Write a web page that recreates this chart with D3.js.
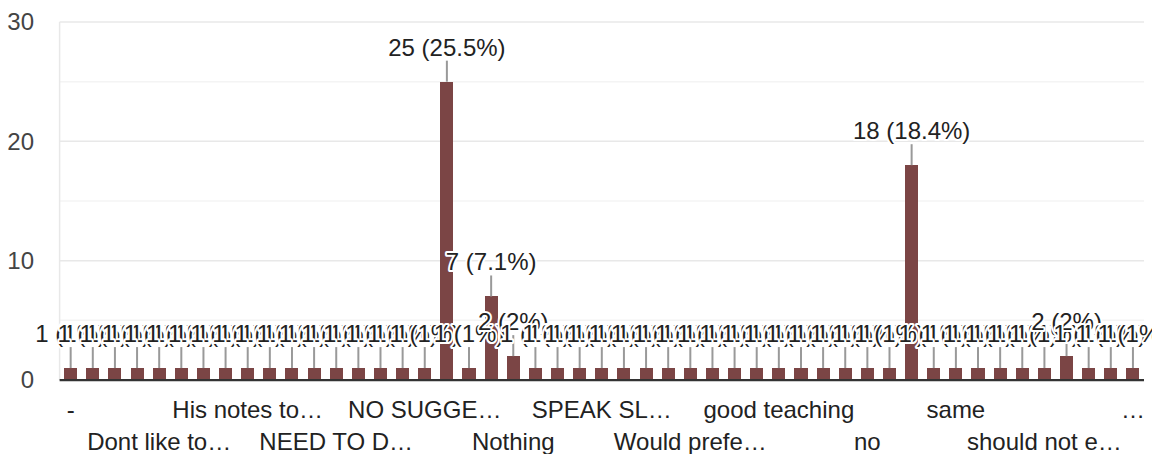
<!DOCTYPE html>
<html>
<head>
<meta charset="utf-8">
<script src="https://cdn.jsdelivr.net/npm/d3@7"></script>
<style>
  html, body { margin: 0; padding: 0; background: #fff; }
  svg { display: block; }
  text { font-family: Arial, "Liberation Sans", sans-serif; }
</style>
</head>
<body>
<svg id="chart" width="1152" height="454"></svg>
<script>
// ---- data ----
const values = [
  1, 1, 1, 1, 1, 1, 1, 1, 1, 1,
  1, 1, 1, 1, 1, 1, 1, 25, 1, 7,
  2, 1, 1, 1, 1, 1, 1, 1, 1, 1,
  1, 1, 1, 1, 1, 1, 1, 1, 18, 1,
  1, 1, 1, 1, 1, 2, 1, 1, 1
];
const categories = values.map((d, i) => i);
const tickLabels = ["-", "Dont like to…", "His notes to…", "NEED TO D…", "NO SUGGE…",
  "Nothing", "SPEAK SL…", "Would prefe…", "good teaching", "no", "same",
  "should not e…", "…"];
const tickEvery = 4;
const yTicks = [0, 10, 20, 30];
const yMinorTicks = [5, 15, 25];

(function () {
  // ---- layout ----
  const plotLeft = 59.6, plotRight = 1144, plotTop = 22, plotBase = 380;
  const total = d3.sum(values);

  const svg = d3.select("#chart");

  const x = d3.scaleBand().domain(categories).range([plotLeft, plotRight])
    .paddingInner(0.41).paddingOuter(0.205);
  const y = d3.scaleLinear().domain([0, 30]).range([plotBase, plotTop]);

  // minor gridlines
  svg.append("g").selectAll("line").data(yMinorTicks).join("line")
    .attr("x1", plotLeft).attr("x2", plotRight)
    .attr("y1", d => y(d)).attr("y2", d => y(d))
    .attr("stroke", "#f4f4f4").attr("stroke-width", 1.5);
  // major gridlines
  svg.append("g").selectAll("line").data(yTicks.filter(d => d > 0)).join("line")
    .attr("x1", plotLeft).attr("x2", plotRight)
    .attr("y1", d => y(d)).attr("y2", d => y(d))
    .attr("stroke", "#e8e8e8").attr("stroke-width", 1.5);
  // left axis line
  svg.append("line")
    .attr("x1", plotLeft).attr("x2", plotLeft).attr("y1", y(30)).attr("y2", plotBase)
    .attr("stroke", "#e8e8e8").attr("stroke-width", 1.5);

  // y tick labels
  svg.append("g").selectAll("text").data(yTicks).join("text")
    .attr("x", 34).attr("y", d => y(d))
    .attr("dy", "0.35em")
    .attr("text-anchor", "end")
    .attr("font-size", 24)
    .attr("fill", "#444")
    .text(d => d);

  // bars
  svg.append("g").selectAll("rect").data(values).join("rect")
    .attr("x", (d, i) => x(i))
    .attr("width", x.bandwidth())
    .attr("y", d => y(d))
    .attr("height", d => plotBase - y(d))
    .attr("fill", "#7b4545")
    .attr("shape-rendering", "crispEdges");

  // baseline
  svg.append("line")
    .attr("x1", plotLeft).attr("x2", plotRight).attr("y1", plotBase).attr("y2", plotBase)
    .attr("stroke", "#333").attr("stroke-width", 2.25);

  // x tick labels (every 4th category, staggered rows)
  const tickCats = categories.filter(i => i % tickEvery === 0);
  svg.append("g").selectAll("text").data(tickCats).join("text")
    .attr("x", i => x(i) + x.bandwidth() / 2)
    .attr("y", (i, k) => k % 2 === 0 ? 418 : 450)
    .attr("text-anchor", "middle")
    .attr("font-size", 24)
    .attr("fill", "#222")
    .text((i, k) => tickLabels[k]);

  // annotation stems
  svg.append("g").selectAll("line").data(values).join("line")
    .attr("x1", (d, i) => x(i) + x.bandwidth() / 2)
    .attr("x2", (d, i) => x(i) + x.bandwidth() / 2)
    .attr("y1", d => y(d))
    .attr("y2", d => y(d) - 21)
    .attr("stroke", "#999").attr("stroke-width", 2);

  // annotation labels with white halo
  const fmtPct = v => {
    const p = Math.round(v / total * 1000) / 10;
    return (Number.isInteger(p) ? p.toFixed(0) : p.toFixed(1)) + "%";
  };
  const ann = svg.append("g");
  values.forEach((v, i) => {
    ann.append("text")
      .attr("x", x(i) + x.bandwidth() / 2)
      .attr("y", y(v) - 26)
      .attr("text-anchor", "middle")
      .attr("font-size", 24)
      .attr("fill", "#222")
      .attr("stroke", "#fff")
      .attr("stroke-width", 4)
      .attr("stroke-linejoin", "round")
      .attr("paint-order", "stroke")
      .text(`${v} (${fmtPct(v)})`);
  });
})();
</script>
</body>
</html>
